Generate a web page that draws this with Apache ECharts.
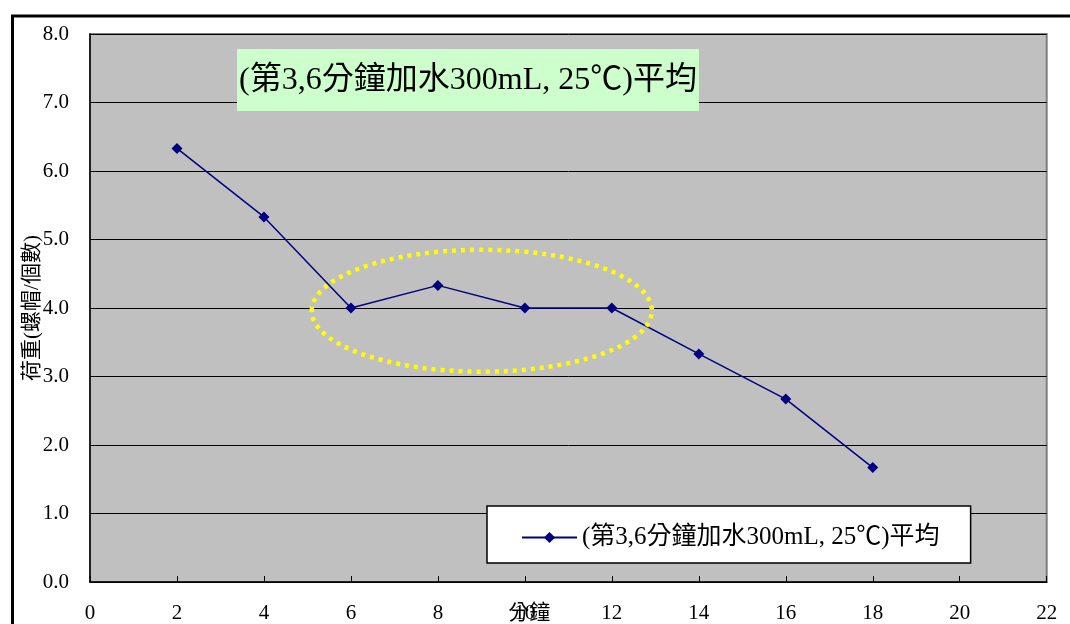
<!DOCTYPE html>
<html>
<head>
<meta charset="utf-8">
<script src="https://cdn.jsdelivr.net/npm/echarts@6/dist/echarts.min.js"></script>
<style>
  html, body { margin: 0; padding: 0; background: #fff; }
  #chart { width: 1070px; height: 624px; }
</style>
</head>
<body>
<div id="chart"></div>
<script>
// Load test: average load (nuts) per minute, water added at minutes 3 and 6
const seriesName = '(第3,6分鐘加水300mL, 25℃)平均';
const minutes = [2, 4, 6, 8, 10, 12, 14, 16, 18];
const loadValues = [6.33, 5.33, 4.0, 4.33, 4.0, 4.0, 3.33, 2.67, 1.67];
const xAxisName = '分鐘';
const yAxisName = '荷重(螺帽/個數)';
// highlighted plateau region (data units): centre and radii
const plateauCenter = [9.01, 3.96];
const plateauRadius = [3.91, 0.89];

const FONT = "'Liberation Serif', 'Noto Sans CJK TC', serif";

const chart = echarts.init(document.getElementById('chart'));

const option = {
  animation: false,
  backgroundColor: '#ffffff',
  textStyle: { fontFamily: FONT },
  grid: {
    left: 90, top: 34, right: 23.3, bottom: 42,
    outerBoundsMode: 'none',
    containLabel: false,
    show: true,
    backgroundColor: '#c0c0c0',
    borderColor: '#808080',
    borderWidth: 2
  },
  xAxis: {
    type: 'value',
    min: 0, max: 22, interval: 2,
    axisLine: { show: true, onZero: false, lineStyle: { color: '#000', width: 1.5 } },
    axisTick: { show: true, inside: true, length: 6, lineStyle: { color: '#000' } },
    axisLabel: { color: '#000', fontSize: 21, margin: 21, fontFamily: FONT, hideOverlap: false },
    splitLine: { show: false }
  },
  yAxis: {
    type: 'value',
    min: 0, max: 8, interval: 1,
    name: yAxisName,
    nameLocation: 'middle',
    nameGap: 58,
    nameRotate: 90,
    nameMoveOverlap: false,
    nameTextStyle: { color: '#000', fontSize: 21, fontFamily: FONT, verticalAlign: 'middle' },
    axisLine: { show: true, lineStyle: { color: '#000', width: 1.5 } },
    axisTick: { show: true, inside: true, length: 6, lineStyle: { color: '#000' } },
    axisLabel: {
      color: '#000', fontSize: 21, margin: 21, fontFamily: FONT,
      formatter: v => v.toFixed(1)
    },
    splitLine: { show: true, lineStyle: { color: '#000', width: 1 } }
  },
  legend: {
    show: true,
    left: 487, top: 506,
    padding: [19, 31, 13, 34],
    backgroundColor: '#ffffff',
    borderColor: '#000',
    borderWidth: 1.5,
    itemWidth: 55, itemHeight: 14,
    itemGap: 8,
    textStyle: { color: '#000', fontSize: 25, fontFamily: FONT },
    data: [seriesName]
  },
  series: [{
    name: seriesName,
    type: 'line',
    data: minutes.map((m, i) => [m, loadValues[i]]),
    symbol: 'diamond',
    symbolSize: 11,
    lineStyle: { color: '#000080', width: 1.5 },
    itemStyle: { color: '#000080' },
    z: 5
  }]
};

chart.setOption(option);

function drawOverlay() {
  const c = chart.convertToPixel({ gridIndex: 0 }, plateauCenter);
  const e = chart.convertToPixel({ gridIndex: 0 }, [plateauCenter[0] + plateauRadius[0], plateauCenter[1] + plateauRadius[1]]);
  // x-axis unit label, printed just left of the axis centre over the "10" tick
  const xName = chart.convertToPixel({ gridIndex: 0 }, [10.1, 0]);
  chart.setOption({
    graphic: [
      {
        type: 'rect',
        shape: { x: 12.5, y: 16, width: 1200, height: 800 },
        style: { fill: 'none', stroke: '#000', lineWidth: 3 },
        silent: true, z: 100
      },
      {
        type: 'text', x: xName[0], y: xName[1] + 21,
        style: {
          text: xAxisName, fill: '#000', fontSize: 21, fontFamily: FONT,
          align: 'center', verticalAlign: 'top'
        },
        silent: true, z: 60
      },
      {
        type: 'rect',
        shape: { x: 237, y: 49, width: 462, height: 62 },
        style: { fill: '#ccffcc' },
        silent: true, z: 50
      },
      {
        type: 'text', x: 468, y: 81,
        style: {
          text: seriesName, fill: '#000', fontSize: 32, fontFamily: FONT,
          align: 'center', verticalAlign: 'middle'
        },
        silent: true, z: 51
      },
      {
        type: 'ellipse',
        shape: { cx: c[0], cy: c[1], rx: e[0] - c[0], ry: c[1] - e[1] },
        style: { fill: 'none', stroke: '#ffff00', lineWidth: 4.5, lineDash: [4, 5] },
        silent: true, z: 40
      }
    ]
  });
}
drawOverlay();
</script>
</body>
</html>
